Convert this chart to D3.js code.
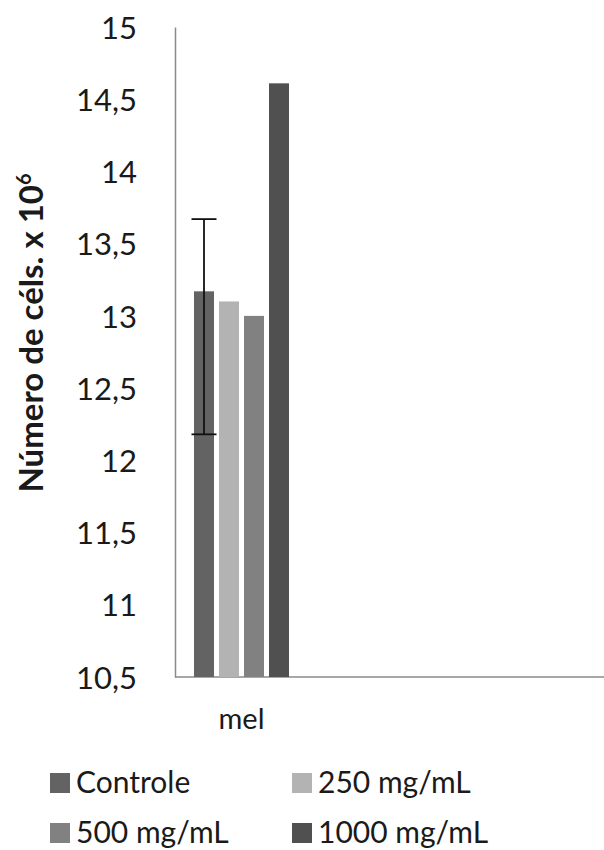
<!DOCTYPE html>
<html><head><meta charset="utf-8">
<script src="https://cdn.jsdelivr.net/npm/d3@7"></script>
<style>body{margin:0;background:#fff;} text{font-family:Lato,"Open Sans",sans-serif;fill:#1a1a1a;}</style>
</head><body>
<svg id="c" width="604" height="850"></svg>
<script>
const categories = ["mel"];
const seriesNames = ["Controle", "250 mg/mL", "500 mg/mL", "1000 mg/mL"];
const seriesValues = [13.17, 13.10, 13.00, 14.61];
const errorUpper = [13.67, null, null, null];
const errorLower = [12.18, null, null, null];
const yTicks = [10.5, 11, 11.5, 12, 12.5, 13, 13.5, 14, 14.5, 15];
const colors = ["#636363", "#b3b3b3", "#818181", "#505050"];

const svg = d3.select("#c");
const x0 = 175, yTop = 27, yBot = 677;
const y = d3.scaleLinear().domain([10.5, 15]).range([yBot, yTop]);
const xCat = d3.scaleBand().domain(categories).range([x0, x0 + 133]);
const xSer = d3.scaleBand().domain(seriesNames).range([0, xCat.bandwidth()]).paddingInner(0.2).paddingOuter(0.76);

// y axis
const yAxis = d3.axisLeft(y).tickValues(yTicks).tickSize(0).tickPadding(38)
  .tickFormat(d => String(d).replace(".", ","));
const ga = svg.append("g").attr("transform", `translate(${x0},0)`).call(yAxis);
ga.select(".domain").attr("stroke", "#8a8a8a").attr("stroke-width", 1.5);
ga.selectAll("text").style("font-size", "31px").attr("fill", "#1a1a1a").attr("dy", "0.36em");

// x axis
const xAxis = d3.axisBottom(xCat).tickSize(0).tickPadding(31);
const gx = svg.append("g").attr("transform", `translate(0,${yBot})`).call(xAxis);
gx.select(".domain").remove();
gx.selectAll("text").style("font-size", "29px").attr("fill", "#1a1a1a");
svg.append("line").attr("x1", x0).attr("x2", 604).attr("y1", yBot).attr("y2", yBot)
  .attr("stroke", "#8a8a8a").attr("stroke-width", 1.5);

// bars
categories.forEach(cat => {
  const g = svg.append("g").attr("transform", `translate(${xCat(cat)},0)`);
  g.selectAll("rect").data(seriesNames).join("rect")
    .attr("x", d => xSer(d)).attr("width", xSer.bandwidth())
    .attr("y", (d, i) => y(seriesValues[i]))
    .attr("height", (d, i) => yBot - y(seriesValues[i]))
    .attr("fill", (d, i) => colors[i]);
  seriesNames.forEach((s, i) => {
    if (errorUpper[i] == null) return;
    const cx = xSer(s) + xSer.bandwidth() / 2;
    g.append("line").attr("x1", cx).attr("x2", cx).attr("y1", y(errorUpper[i])).attr("y2", y(errorLower[i]))
      .attr("stroke", "#111").attr("stroke-width", 1.8);
    [errorUpper[i], errorLower[i]].forEach(v => {
      g.append("line").attr("x1", cx - 12.5).attr("x2", cx + 12.5).attr("y1", y(v)).attr("y2", y(v))
        .attr("stroke", "#111").attr("stroke-width", 1.8);
    });
  });
});

// y title
svg.append("text").attr("transform", "translate(43,333) rotate(-90)")
  .attr("text-anchor", "middle").style("font-size", "33px").style("font-weight", "bold")
  .html('Número de céls. x 10<tspan dy="-12" style="font-size:20px">6</tspan>');

// legend
const legPos = [[50, 773], [292, 773], [50, 823], [292, 823]];
seriesNames.forEach((s, i) => {
  const [lx, ly] = legPos[i];
  svg.append("rect").attr("x", lx).attr("y", ly).attr("width", 20).attr("height", 20).attr("fill", colors[i]);
  svg.append("text").attr("x", lx + 26).attr("y", ly + 20).style("font-size", "30px").text(s);
});
</script>
</body></html>
